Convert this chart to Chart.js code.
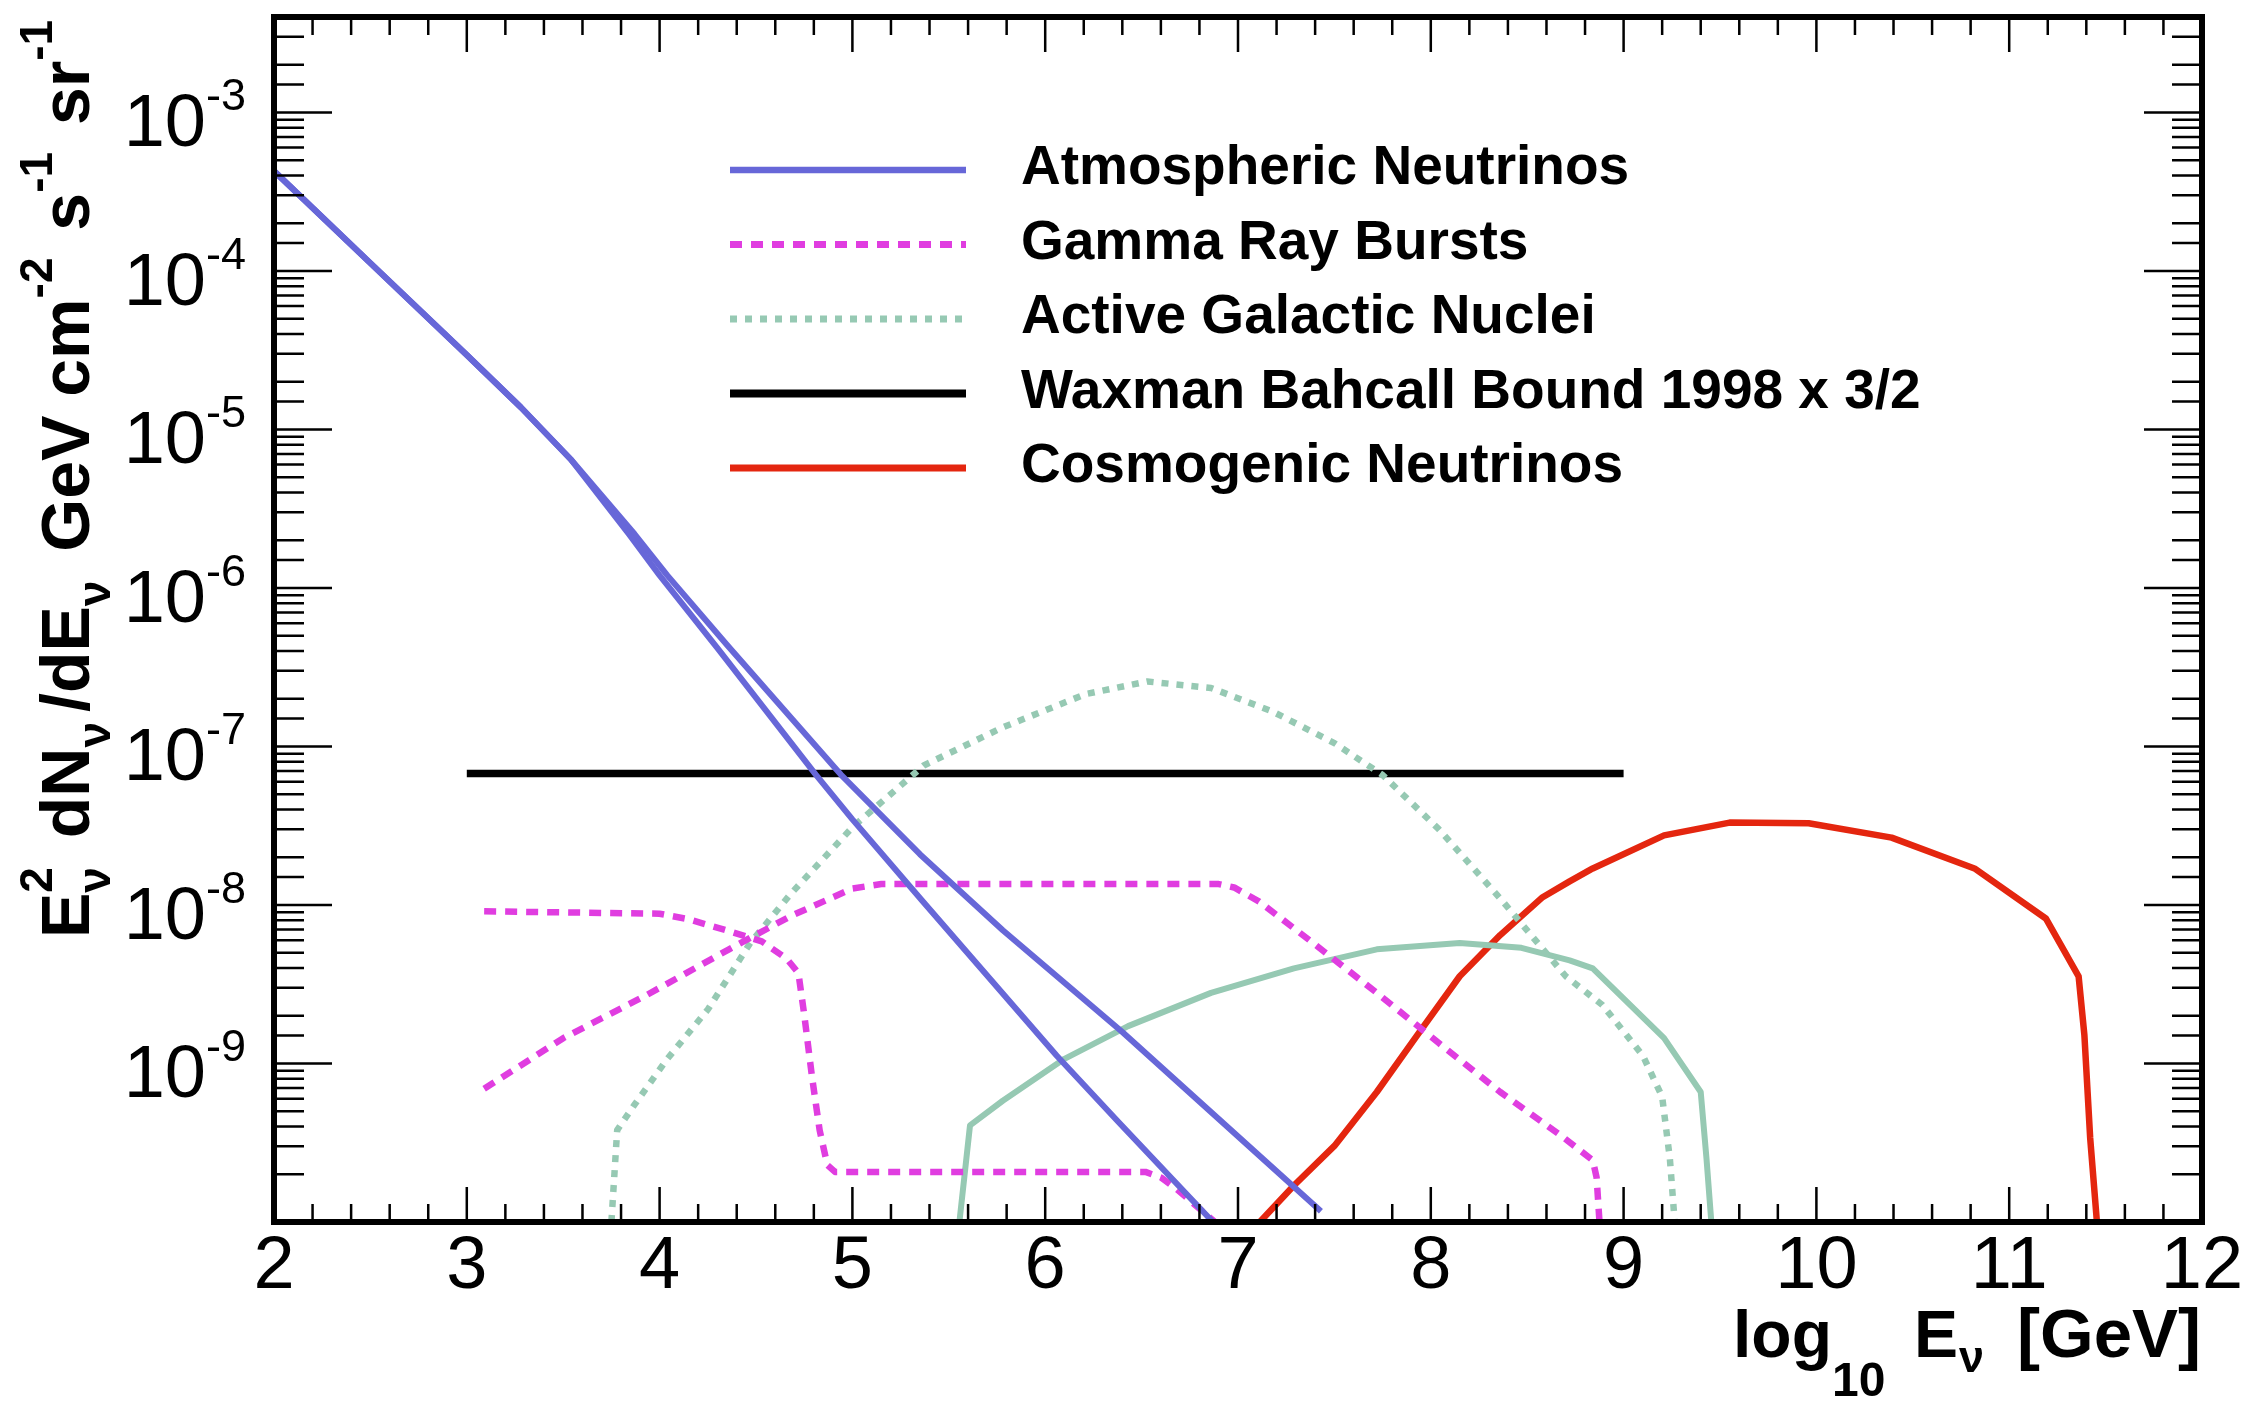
<!DOCTYPE html>
<html>
<head>
<meta charset="utf-8">
<title>Neutrino flux predictions</title>
<script src="https://cdn.jsdelivr.net/npm/chart.js@4.4.1/dist/chart.umd.min.js"></script>
<style>
  html, body { margin: 0; padding: 0; background: #fff; }
  canvas { display: block; }
</style>
</head>
<body>
<canvas id="fluxChart" width="2255" height="1401"></canvas>
<script>
// x: log10(E / GeV), y: E^2 dN/dE in GeV cm^-2 s^-1 sr^-1
const atmLowX = [2.0, 2.5, 3.0, 3.28, 3.54, 3.84, 4.0, 4.3, 4.81, 5.0, 5.36, 6.06, 6.38, 6.87];
const atmLowY = [4.27e-4, 1.12e-4, 2.95e-5, 1.38e-5, 6.46e-6, 2.19e-6, 1.2e-6, 4.17e-7, 6.65e-8, 3.47e-8, 1.07e-8, 1.12e-9, 4.27e-10, 1.0e-10];
const atmHighX = [2.0, 2.5, 3.0, 3.28, 3.54, 3.87, 4.04, 4.35, 4.94, 5.35, 5.78, 6.40, 6.90, 7.43];
const atmHighY = [4.27e-4, 1.12e-4, 2.95e-5, 1.38e-5, 6.46e-6, 2.19e-6, 1.2e-6, 4.37e-7, 6.65e-8, 2.09e-8, 6.92e-9, 1.58e-9, 4.47e-10, 1.17e-10];

const grbLowX = [3.09, 4.0, 4.15, 4.36, 4.53, 4.66, 4.72, 4.75, 4.79, 4.83, 4.87, 4.91, 6.52, 6.60, 6.68, 6.88];
const grbLowY = [9.12e-9, 8.81e-9, 8.13e-9, 6.84e-9, 5.89e-9, 4.57e-9, 3.72e-9, 2.04e-9, 8.32e-10, 3.8e-10, 2.29e-10, 2.07e-10, 2.07e-10, 1.91e-10, 1.62e-10, 1.0e-10];
const grbHighX = [3.09, 3.5, 3.93, 4.36, 4.68, 5.0, 5.15, 6.9, 6.98, 7.11, 7.39, 7.72, 8.04, 8.36, 8.67, 8.84, 8.86, 8.875];
const grbHighY = [6.92e-10, 1.445e-9, 2.69e-9, 5.25e-9, 8.51e-9, 1.27e-8, 1.355e-8, 1.355e-8, 1.29e-8, 1.05e-8, 5.75e-9, 2.79e-9, 1.35e-9, 6.61e-10, 3.55e-10, 2.45e-10, 1.91e-10, 1.0e-10];

const agnDotX = [3.75, 3.78, 3.87, 4.04, 4.25, 4.47, 4.68, 5.0, 5.37, 5.78, 6.21, 6.53, 6.86, 7.18, 7.5, 7.75, 8.04, 8.36, 8.70, 8.89, 9.10, 9.20, 9.24, 9.265];
const agnDotY = [1.0e-10, 3.8e-10, 5.5e-10, 1.07e-9, 2.19e-9, 5.75e-9, 1.175e-8, 3.09e-8, 7.59e-8, 1.32e-7, 2.14e-7, 2.57e-7, 2.34e-7, 1.66e-7, 1.05e-7, 6.61e-8, 3.02e-8, 1.1e-8, 3.55e-9, 2.34e-9, 1.12e-9, 6.17e-10, 2.51e-10, 1.0e-10];
const agnSolidX = [5.555, 5.61, 5.78, 6.10, 6.43, 6.86, 7.29, 7.72, 8.15, 8.47, 8.72, 8.84, 9.21, 9.40, 9.43, 9.455];
const agnSolidY = [1.0e-10, 4.07e-10, 5.82e-10, 1.07e-9, 1.72e-9, 2.79e-9, 3.98e-9, 5.25e-9, 5.75e-9, 5.37e-9, 4.47e-9, 3.98e-9, 1.445e-9, 6.61e-10, 2.51e-10, 1.0e-10];

const wbX = [3, 9];
const wbY = [6.75e-8, 6.75e-8];

const cosmoX = [7.113, 7.29, 7.50, 7.72, 7.93, 8.15, 8.36, 8.58, 8.72, 8.84, 9.21, 9.55, 9.96, 10.39, 10.82, 11.19, 11.36, 11.39, 11.42, 11.455];
const cosmoY = [1.0e-10, 1.7e-10, 3.02e-10, 6.61e-10, 1.51e-9, 3.55e-9, 6.46e-9, 1.12e-8, 1.41e-8, 1.7e-8, 2.75e-8, 3.31e-8, 3.28e-8, 2.66e-8, 1.7e-8, 8.22e-9, 3.55e-9, 1.51e-9, 3.39e-10, 1.0e-10];

const yTickExponents = [-9, -8, -7, -6, -5, -4, -3];

const FONT = '"Liberation Sans", Arial, Helvetica, sans-serif';
const BLUE = "#6767d8";
const MAGENTA = "#e03de0";
const GREEN = "#96c9b3";
const RED = "#e4260f";

const pts = (xs, ys) => xs.map((x, i) => ({ x, y: ys[i] }));

function line(label, xs, ys, color, width, dash) {
  return {
    label,
    data: pts(xs, ys),
    borderColor: color,
    borderWidth: width,
    borderDash: dash || [],
    borderJoinStyle: "round",
    pointRadius: 0,
    fill: false,
    tension: 0,
  };
}

// draws text pieces one after another; "hold" stacks the next piece at the same place
function drawRuns(ctx, x0, y0, runs) {
  let u = 0, held = 0;
  for (const r of runs) {
    ctx.font = "bold " + r.size + "px " + FONT;
    ctx.fillText(r.text, x0 + u, y0 + (r.dy || 0));
    const w = ctx.measureText(r.text).width;
    if (r.hold) { held = w; continue; }
    u += Math.max(w, held) + (r.gap || 0);
    held = 0;
  }
}

const frame = {
  id: "frame",
  afterDatasetsDraw(chart) {
    const { ctx, chartArea: a, scales: { x, y } } = chart;
    ctx.save();
    ctx.strokeStyle = "#000";
    ctx.lineWidth = 2.5;
    ctx.beginPath();
    x.ticks.forEach(t => {
      for (let k = 0; k < 5; k++) {
        const v = t.value + k * 0.2;
        if (v > x.max + 1e-9) break;
        const px = x.getPixelForValue(v);
        const len = k === 0 ? 35 : 18;
        ctx.moveTo(px, a.bottom); ctx.lineTo(px, a.bottom - len);
        ctx.moveTo(px, a.top); ctx.lineTo(px, a.top + len);
      }
    });
    y.ticks.forEach(t => {
      const lg = Math.log10(t.value);
      const major = Math.abs(lg - Math.round(lg)) < 1e-6;
      const py = y.getPixelForValue(t.value);
      if (py < a.top + 1 || py > a.bottom - 1) return;
      const len = major ? 58 : 30;
      ctx.moveTo(a.left, py); ctx.lineTo(a.left + len, py);
      ctx.moveTo(a.right, py); ctx.lineTo(a.right - len, py);
    });
    ctx.stroke();
    ctx.lineWidth = 6;
    ctx.strokeRect(a.left, a.top, a.right - a.left, a.bottom - a.top);
    ctx.restore();
  }
};

const labels = {
  id: "labels",
  afterDraw(chart) {
    const { ctx, scales: { y } } = chart;
    ctx.save();
    ctx.fillStyle = "#000";
    ctx.textBaseline = "alphabetic";

    // y tick labels 10^n
    yTickExponents.forEach(e => {
      const py = y.getPixelForValue(Math.pow(10, e));
      ctx.font = "74px " + FONT;
      ctx.textAlign = "right";
      ctx.fillText("10", 206, py + 34);
      ctx.font = "45px " + FONT;
      ctx.textAlign = "left";
      ctx.fillText(String(e), 206, py - 2);
    });

    // x axis title
    ctx.textAlign = "left";
    ctx.font = "bold 66px " + FONT;
    ctx.fillText("log", 1733, 1357);
    ctx.font = "bold 48px " + FONT;
    ctx.fillText("10", 1832, 1396);
    ctx.font = "bold 66px " + FONT;
    ctx.fillText("E", 1914, 1357);
    ctx.font = "bold 45px " + FONT;
    ctx.fillText("ν", 1959, 1372);
    ctx.font = "bold 69px " + FONT;
    ctx.textAlign = "right";
    ctx.fillText("[GeV]", 2201, 1357);

    // y axis title
    ctx.textAlign = "left";
    ctx.save();
    ctx.translate(89, 938);
    ctx.rotate(-Math.PI / 2);
    drawRuns(ctx, 0, 0, [
      { text: "E", size: 68 },
      { text: "2", size: 46, dy: -37, hold: true },
      { text: "ν", size: 46, dy: 21, gap: 10 },
      { text: " dN", size: 68 },
      { text: "ν", size: 46, dy: 21, gap: 10 },
      { text: "/dE", size: 68 },
      { text: "ν", size: 46, dy: 21, gap: 10 },
      { text: " GeV cm", size: 68 },
      { text: "-2", size: 46, dy: -37, gap: 8 },
      { text: " s", size: 68 },
      { text: "-1", size: 46, dy: -37, gap: 8 },
      { text: " sr", size: 68 },
      { text: "-1", size: 46, dy: -37 },
    ]);
    ctx.restore();

    // legend, one entry per label
    const seen = new Set();
    let row = 0;
    chart.data.datasets.forEach(ds => {
      if (seen.has(ds.label)) return;
      seen.add(ds.label);
      const ly = 170 + row * 74.5;
      ctx.save();
      ctx.strokeStyle = ds.borderColor;
      ctx.lineWidth = ds.borderWidth + 0.5;
      ctx.setLineDash(ds.borderDash);
      ctx.beginPath();
      ctx.moveTo(730, ly);
      ctx.lineTo(966, ly);
      ctx.stroke();
      ctx.restore();
      ctx.font = "bold 55px " + FONT;
      ctx.textAlign = "left";
      ctx.fillText(ds.label, 1021, ly + 14);
      row++;
    });
    ctx.restore();
  }
};

new Chart(document.getElementById("fluxChart"), {
  type: "line",
  data: {
    datasets: [
      line("Atmospheric Neutrinos", atmLowX, atmLowY, BLUE, 6),
      line("Atmospheric Neutrinos", atmHighX, atmHighY, BLUE, 6),
      line("Gamma Ray Bursts", grbLowX, grbLowY, MAGENTA, 6.5, [12, 9]),
      line("Gamma Ray Bursts", grbHighX, grbHighY, MAGENTA, 6.5, [12, 9]),
      line("Active Galactic Nuclei", agnDotX, agnDotY, GREEN, 6.5, [7, 8]),
      line("Active Galactic Nuclei", agnSolidX, agnSolidY, GREEN, 6),
      line("Waxman Bahcall Bound 1998 x 3/2", wbX, wbY, "#000", 7.5),
      line("Cosmogenic Neutrinos", cosmoX, cosmoY, RED, 6.5),
    ]
  },
  options: {
    responsive: false,
    animation: false,
    devicePixelRatio: 1,
    layout: { padding: { top: 17, right: 53, left: 0, bottom: 0 } },
    plugins: {
      legend: { display: false },
      tooltip: { enabled: false },
    },
    scales: {
      x: {
        type: "linear",
        min: 2,
        max: 12,
        ticks: {
          stepSize: 1,
          color: "#000",
          font: { family: FONT, size: 74 },
          padding: 1,
          maxRotation: 0,
          autoSkip: false,
        },
        grid: { display: false, drawTicks: false },
        border: { display: false },
        afterFit: s => { s.height = 179; },
      },
      y: {
        type: "logarithmic",
        min: 1e-10,
        max: 4e-3,
        ticks: { display: false },
        grid: { display: false, drawTicks: false },
        border: { display: false },
        afterFit: s => { s.width = 274; },
      },
    },
  },
  plugins: [frame, labels],
});
</script>
</body>
</html>
